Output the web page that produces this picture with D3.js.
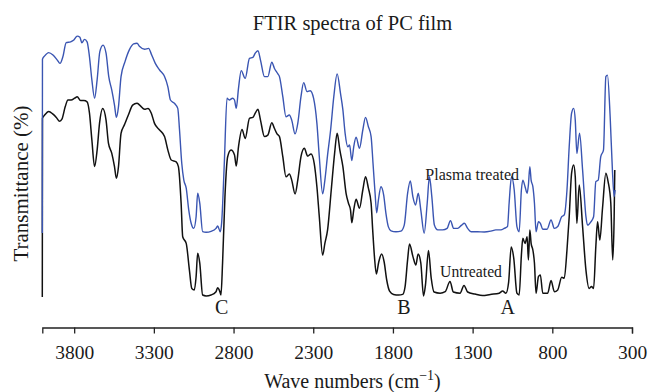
<!DOCTYPE html>
<html><head><meta charset="utf-8">
<script src="https://cdn.jsdelivr.net/npm/d3@7"></script>
<style>body{margin:0;background:#fff}svg{display:block}text{font-family:"Liberation Serif","Times New Roman",serif;fill:#1a1a1a}</style>
</head><body><svg id="c" width="649" height="392"></svg>
<script>
// Untreated (black) spectrum: wavenumber (cm-1), transmittance (arb. %)
const untreatedW = [4000,3999,3985,3960,3933,3912,3891,3877,3856,3839,3819,3797,3781,3760,3739,3719,3704,3689,3672,3656,3641,3621,3600,3585,3564,3547,3535,3522,3506,3485,3460,3433,3406,3389,3358,3337,3316,3296,3264,3233,3212,3191,3160,3146,3129,3119,3097,3077,3062,3046,3035,3025,3012,2994,2972,2941,2910,2900,2887,2879,2869,2854,2837,2816,2794,2783,2769,2747,2727,2700,2679,2664,2647,2631,2606,2585,2560,2544,2527,2512,2491,2471,2450,2435,2414,2397,2377,2356,2335,2314,2294,2277,2262,2241,2227,2210,2187,2166,2150,2133,2114,2094,2079,2066,2058,2046,2031,2010,1989,1972,1954,1937,1927,1916,1904,1889,1871,1855,1839,1821,1796,1764,1739,1724,1708,1696,1674,1656,1642,1625,1608,1596,1577,1560,1542,1504,1472,1442,1421,1379,1354,1331,1285,1237,1189,1133,1112,1091,1074,1058,1042,1022,1008,994,985,971,958,950,941,933,922,912,902,887,875,860,829,808,787,766,741,725,708,694,679,666,656,646,631,610,589,569,554,541,527,516,502,485,464,450,433,421,412,408];
const untreatedT = [10.3,69.9,71.0,72.2,71.3,70.2,68.9,69.6,73.8,76.0,76.0,76.6,77.1,75.8,75.8,75.4,71.6,62.7,53.8,59.3,68.2,73.2,69.3,61.6,58.2,53.8,49.9,53.8,64.9,67.7,71.0,74.3,74.9,74.3,72.9,73.2,71.6,68.2,66.0,63.8,59.3,56.0,55.4,53.8,41.6,30.4,28.2,19.3,13.2,12.7,17.1,24.9,21.6,11.0,10.7,11.0,12.1,13.4,12.3,11.0,21.6,43.8,57.1,59.3,57.7,54.0,60.4,66.2,63.2,69.9,70.2,71.6,72.9,69.3,63.8,64.3,68.4,66.6,64.7,63.8,57.1,50.4,51.3,49.3,44.7,49.3,57.1,59.9,57.3,58.0,54.9,47.1,37.1,24.3,28.2,32.7,46.0,58.2,64.9,59.3,53.8,44.9,41.6,39.3,35.1,39.3,42.9,39.9,46.0,50.4,46.6,41.6,32.7,23.8,18.0,22.0,24.7,22.0,16.0,12.3,11.2,11.0,11.2,13.7,22.7,28.0,23.7,21.0,24.7,21.6,10.7,14.3,25.8,16.7,12.0,11.6,12.1,15.5,12.0,11.6,14.2,12.0,11.3,10.8,11.2,11.6,12.3,11.6,15.3,27.0,23.3,11.6,11.0,24.3,29.9,28.2,30.4,22.7,32.7,28.2,26.0,21.6,11.6,17.1,17.7,11.6,11.6,15.8,12.1,12.7,16.9,16.6,26.0,37.1,51.6,54.3,50.4,34.9,47.7,33.8,19.3,13.2,13.8,13.2,27.1,35.4,29.3,39.9,51.6,48.8,41.6,22.7,37.1,52.7];
// Plasma treated (blue) spectrum
const treatedW = [4000,3999,3985,3960,3933,3906,3889,3871,3850,3822,3802,3781,3764,3752,3735,3719,3704,3689,3672,3656,3639,3619,3600,3583,3564,3547,3535,3522,3506,3481,3454,3427,3406,3389,3358,3333,3316,3291,3264,3233,3212,3196,3171,3150,3139,3125,3112,3097,3081,3066,3050,3035,3025,3012,2994,2972,2941,2910,2900,2883,2875,2858,2841,2827,2806,2794,2783,2769,2752,2727,2700,2679,2664,2647,2631,2606,2585,2560,2544,2522,2512,2491,2471,2450,2435,2414,2397,2377,2360,2339,2319,2298,2277,2262,2241,2227,2210,2191,2171,2150,2129,2114,2100,2083,2072,2058,2046,2031,2010,1989,1972,1954,1937,1925,1912,1902,1891,1875,1858,1844,1829,1812,1781,1750,1729,1708,1691,1675,1658,1641,1625,1604,1585,1571,1556,1540,1519,1488,1460,1439,1419,1394,1369,1352,1331,1310,1269,1227,1185,1154,1122,1102,1081,1071,1056,1039,1022,1008,994,985,971,958,950,941,933,922,912,902,887,875,860,833,808,787,766,741,725,708,694,679,666,656,646,629,610,589,579,558,541,527,512,496,479,464,454,437,423,412,406];
const treatedT = [31.7,89.6,90.7,91.8,91.0,89.3,88.2,90.4,95.1,95.4,96.0,97.3,96.9,95.1,96.2,95.4,90.4,82.7,76.6,82.7,92.1,94.3,91.6,83.8,79.3,74.3,70.2,73.8,83.8,88.8,92.7,94.7,94.9,93.8,92.9,93.2,91.3,88.2,86.0,83.8,80.4,76.0,74.9,73.2,66.0,54.9,49.3,46.6,39.3,34.9,33.2,37.1,44.9,41.6,32.1,31.9,32.2,33.2,34.0,32.1,34.9,54.9,76.6,76.0,76.6,76.0,73.2,79.9,85.8,83.2,89.9,90.2,91.6,92.4,89.3,83.8,83.8,88.6,86.6,84.7,83.8,77.1,70.4,71.0,69.3,64.7,68.2,77.1,81.8,78.8,79.1,76.6,68.2,57.1,44.7,49.3,57.7,66.0,77.1,84.7,78.2,72.7,64.9,60.4,61.0,55.8,60.4,63.6,59.9,66.0,70.2,67.1,63.8,54.9,44.9,38.4,42.7,47.1,44.3,38.2,33.8,32.4,32.1,32.3,34.3,44.9,49.0,43.8,41.0,44.9,39.3,31.6,41.6,50.4,43.8,34.3,32.7,32.7,33.2,35.8,33.2,33.2,34.3,34.9,33.2,32.1,32.1,32.0,32.3,32.7,32.7,33.2,33.8,41.6,50.4,46.0,33.8,32.1,46.0,49.3,47.1,44.9,47.7,53.8,49.3,47.1,41.6,32.1,35.4,34.9,32.9,32.9,36.0,33.2,33.8,37.1,37.7,46.0,60.4,71.6,73.2,69.3,58.2,64.9,52.7,37.1,34.3,35.4,37.1,48.8,49.3,57.1,59.3,83.8,84.3,70.4,52.7,43.8,46.0];
const xTicks = [3800,3300,2800,2300,1800,1300,800,300];
const peakLabels = ["C","B","A"];
const peakW = [2874,1731,1079];

const svg = d3.select("#c");
const x = d3.scaleLinear().domain([4000,300]).range([42.3,632]);
const y = d3.scaleLinear().domain([0,100]).range([328,28]);

const line = d3.line().x(d=>x(d[0])).y(d=>y(d[1])).curve(d3.curveMonotoneX);
const untreated = untreatedW.map((w,i)=>[w,untreatedT[i]]);
const treated = treatedW.map((w,i)=>[w,treatedT[i]]);

svg.append("path").datum(untreated).attr("d",line).attr("fill","none")
  .attr("stroke","#111").attr("stroke-width",1.5).attr("stroke-linejoin","round");
svg.append("path").datum(treated).attr("d",line).attr("fill","none")
  .attr("stroke","#3a55b2").attr("stroke-width",1.4).attr("stroke-linejoin","round");

// axis
const ax = svg.append("g").attr("transform","translate(0,327.5)")
  .call(d3.axisBottom(x).tickValues(xTicks).tickSizeOuter(0).tickSize(6).tickFormat(d3.format("d")));
ax.select(".domain").attr("stroke","#222").attr("stroke-width",1.3);
ax.selectAll(".tick line").attr("stroke","#222").attr("stroke-width",1.3);
ax.selectAll(".tick text").attr("y",31.5).attr("dy",0)
  .style("font-family",'"Liberation Serif",serif').style("font-size","19.5px").attr("fill","#1a1a1a");

// titles
svg.append("text").attr("x",352.5).attr("y",30).attr("text-anchor","middle")
  .style("font-size","20.5px").text("FTIR spectra of PC film");
svg.append("text").attr("transform","translate(28,183.5) rotate(-90)").attr("text-anchor","middle")
  .style("font-size","21px").text("Transmittance (%)");
const xl = svg.append("text").attr("x",352.5).attr("y",388).attr("text-anchor","middle").style("font-size","20px");
xl.append("tspan").text("Wave numbers (cm");
xl.append("tspan").attr("dy",-8).style("font-size","14px").text("\u22121");
xl.append("tspan").attr("dy",8).text(")");

// annotations
svg.append("text").attr("x",x(1597)).attr("y",y(49.3)).style("font-size","16px").text("Plasma treated");
svg.append("text").attr("x",x(1504)).attr("y",y(17.1)).style("font-size","15.7px").text("Untreated");
peakLabels.forEach((t,i)=>{
  svg.append("text").attr("x",x(peakW[i])).attr("y",y(4.8)).attr("text-anchor","middle")
    .style("font-size","20px").text(t);
});
</script></body></html>
